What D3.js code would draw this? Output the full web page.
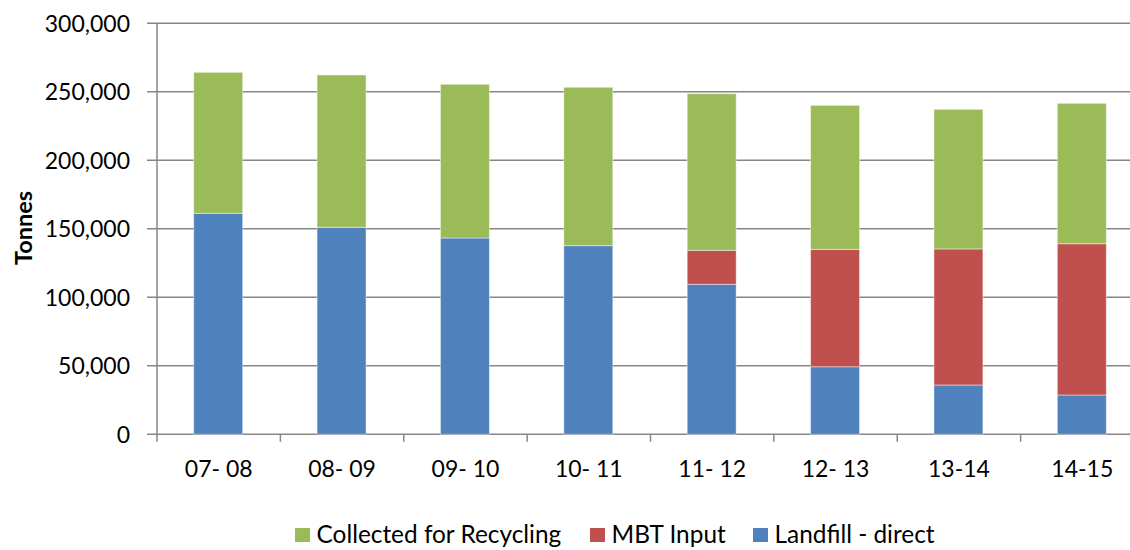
<!DOCTYPE html>
<html>
<head>
<meta charset="utf-8">
<script src="https://cdn.jsdelivr.net/npm/d3@7"></script>
<style>
  html, body { margin: 0; padding: 0; background: #fff; }
  svg { display: block; }
  text { font-family: Lato, "Open Sans", sans-serif; fill: #000; }
</style>
</head>
<body>
<svg id="chart" width="1130" height="550"></svg>
<script>
const categories = ["07- 08", "08- 09", "09- 10", "10- 11", "11- 12", "12- 13", "13-14", "14-15"];
const landfillDirect = [161300, 151100, 143300, 137700, 109500, 49300, 36000, 28700];
const mbtInput = [0, 0, 0, 0, 24800, 85700, 99300, 110400];
const collectedForRecycling = [102900, 111200, 112200, 115600, 114300, 105100, 101900, 102500];
const yTicks = [0, 50000, 100000, 150000, 200000, 250000, 300000];
const seriesNames = ["Landfill - direct", "MBT Input", "Collected for Recycling"];
const seriesColors = ["#4F81BD", "#C0504D", "#9BBB59"];
const legendOrder = ["Collected for Recycling", "MBT Input", "Landfill - direct"];

const svg = d3.select("#chart");
const plotLeft = 157, plotRight = 1144, plotTop = 23.3, plotBottom = 434.3;

const rows = categories.map((c, i) => ({
  cat: c,
  "Landfill - direct": landfillDirect[i],
  "MBT Input": mbtInput[i],
  "Collected for Recycling": collectedForRecycling[i]
}));

const x = d3.scaleBand().domain(categories).range([plotLeft, plotRight]).padding(0);
const y = d3.scaleLinear().domain([0, 300000]).range([plotBottom, plotTop]);
const color = d3.scaleOrdinal().domain(seriesNames).range(seriesColors);

const gridColor = "#868686";

// gridlines
svg.append("g")
  .selectAll("line")
  .data(yTicks)
  .join("line")
  .attr("x1", plotLeft - 10)
  .attr("x2", plotRight)
  .attr("y1", d => y(d))
  .attr("y2", d => y(d))
  .attr("stroke", gridColor)
  .attr("stroke-width", 1.5);

// y axis labels
const fmt = d3.format(",");
svg.append("g")
  .selectAll("text")
  .data(yTicks)
  .join("text")
  .attr("x", 130)
  .attr("y", d => y(d))
  .attr("dy", "0.36em")
  .attr("text-anchor", "end")
  .attr("font-size", 23)
  .text(d => fmt(d));

// stacked bars
const stack = d3.stack().keys(seriesNames);
const stacked = stack(rows);
const barW = x.bandwidth() * 0.397;

svg.append("g")
  .selectAll("g")
  .data(stacked)
  .join("g")
  .attr("fill", d => color(d.key))
  .selectAll("rect")
  .data(d => d.filter(p => p[1] - p[0] > 0))
  .join("rect")
  .attr("x", d => x(d.data.cat) + x.bandwidth() / 2 - barW / 2 - 0.5)
  .attr("width", barW)
  .attr("y", d => y(d[1]))
  .attr("height", d => y(d[0]) - y(d[1]))
  .attr("stroke", "rgba(255,255,255,0.45)")
  .attr("stroke-width", 1);

// y axis line
svg.append("line")
  .attr("x1", plotLeft).attr("x2", plotLeft)
  .attr("y1", plotTop).attr("y2", plotBottom)
  .attr("stroke", gridColor).attr("stroke-width", 1.5);

// x axis
const xAxis = d3.axisBottom(x).tickSize(0).tickFormat(d => d);
const gx = svg.append("g").attr("transform", `translate(0,${plotBottom})`).call(xAxis);
gx.select(".domain").remove();
gx.selectAll("text")
  .attr("font-size", 23)
  .attr("font-family", "Lato, sans-serif")
  .attr("fill", "#000")
  .attr("y", 0)
  .attr("dy", "42.5");

// x tick marks at band boundaries
const boundaries = categories.map(c => x(c)).concat([x(categories[categories.length - 1]) + x.bandwidth()]);
svg.append("g")
  .selectAll("line")
  .data(boundaries)
  .join("line")
  .attr("x1", d => d).attr("x2", d => d)
  .attr("y1", plotBottom).attr("y2", plotBottom + 7.5)
  .attr("stroke", gridColor).attr("stroke-width", 1.5);

// y axis title
svg.append("text")
  .attr("transform", "translate(32,228) rotate(-90)")
  .attr("text-anchor", "middle")
  .attr("font-size", 23.5)
  .attr("font-weight", "bold")
  .text("Tonnes");

// legend
const legendX = [295, 590, 753];
const legend = svg.append("g")
  .selectAll("g")
  .data(legendOrder)
  .join("g")
  .attr("transform", (d, i) => `translate(${legendX[i]},0)`);
legend.append("rect")
  .attr("x", 0).attr("y", 528)
  .attr("width", 15).attr("height", 14)
  .attr("fill", d => color(d));
legend.append("text")
  .attr("x", 21.5).attr("y", 543)
  .attr("font-size", 24.4)
  .text(d => d);
</script>
</body>
</html>
